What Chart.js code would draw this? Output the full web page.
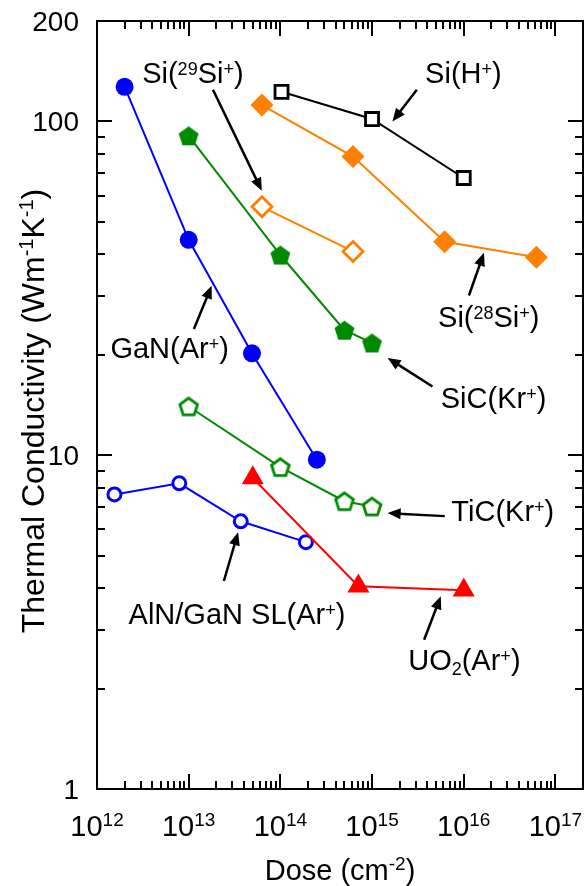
<!DOCTYPE html>
<html>
<head>
<meta charset="utf-8">
<script src="https://cdn.jsdelivr.net/npm/chart.js@4.4.0/dist/chart.umd.min.js"></script>
<style>
  html, body { margin: 0; padding: 0; background: #fff; overflow: hidden; }
  canvas { display: block; }
</style>
</head>
<body>
<canvas id="myChart" width="584" height="886"></canvas>
<script>
'use strict';

//////////////////////
// data (dose in cm^-2, thermal conductivity in W/mK)
//////////////////////

const ganDose = [2e12, 1e13, 4.9e13, 2.5e14];
const ganK = [127, 44.2, 20.2, 9.7];

const alnDose = [1.55e12, 7.9e12, 3.7e13, 1.9e14];
const alnK = [7.63, 8.24, 6.34, 5.49];

const sicDose = [1e13, 1e14, 5e14, 1e15];
const sicK = [90.6, 39.8, 23.7, 21.7];

const ticDose = [1e13, 1e14, 5e14, 1e15];
const ticK = [14.0, 9.21, 7.28, 7.02];

const si28Dose = [6.3e13, 6.2e14, 6.2e15, 6.2e16];
const si28K = [112, 78.5, 43.6, 39.2];

const si29Dose = [6.3e13, 6.2e14];
const si29K = [55.5, 40.8];

const siHDose = [1.03e14, 1e15, 1e16];
const siHK = [122.7, 101.7, 67.7];

const uo2Dose = [5e13, 7.1e14, 1e16];
const uo2K = [8.55, 4.05, 3.94];

const doseTicks = [1e12, 1e13, 1e14, 1e15, 1e16, 1e17];
const doseTickLabels = ['10^{12}', '10^{13}', '10^{14}', '10^{15}', '10^{16}', '10^{17}'];
const kTicks = [1, 10, 100, 200];
const kTickLabels = ['1', '10', '100', '200'];

// labels with arrows, anchored in data space: [dose, k]
const notes = [
  { text: 'Si(^{29}Si^{+})', at: [3.11e12, 130.6], from: [1.84e13, 124.5], to: [6.27e13, 62] },
  { text: 'Si(H^{+})', at: [3.79e15, 130.6], from: [3.08e15, 124.5], to: [1.67e15, 100] },
  { text: 'GaN(Ar^{+})', at: [1.4e12, 19.6], from: [1.14e13, 23.9], to: [1.78e13, 32.2] },
  { text: 'Si(^{28}Si^{+})', at: [5.25e15, 24.2], from: [1.14e16, 30.1], to: [1.66e16, 40.4] },
  { text: 'SiC(Kr^{+})', at: [5.62e15, 13.9], from: [4.56e15, 16.06], to: [1.48e15, 19.57] },
  { text: 'TiC(Kr^{+})', at: [7.33e15, 6.34], from: [6.21e15, 6.57], to: [1.48e15, 6.71] },
  { text: 'AlN/GaN SL(Ar^{+})', at: [2.21e12, 3.13], from: [2.42e13, 4.2], to: [3.46e13, 5.88] },
  { text: 'UO_{2}(Ar^{+})', at: [2.48e15, 2.27], from: [3.7e15, 2.8], to: [5.62e15, 3.78] }
];

//////////////////////
// helpers
//////////////////////

const FONT = '"Liberation Sans", Arial, sans-serif';
const BLUE = '#0000ff';
const GREEN = '#008a00';
const ORANGE = '#ff8000';
const RED = '#ff0000';

function toPoints(xs, ys) {
  return xs.map((x, i) => ({ x: x, y: ys[i] }));
}

// pentagon marker drawn on a small canvas, used as pointStyle
function makePentagon(r, fill, stroke, lw) {
  const size = Math.ceil(2 * r + lw + 4);
  const c = document.createElement('canvas');
  c.width = size;
  c.height = size;
  const g = c.getContext('2d');
  const cx = size / 2;
  const cy = size / 2 + 0.095 * r;
  g.beginPath();
  for (let i = 0; i < 5; i++) {
    const a = -Math.PI / 2 + i * 2 * Math.PI / 5;
    const px = cx + r * Math.cos(a);
    const py = cy + r * Math.sin(a);
    if (i === 0) g.moveTo(px, py); else g.lineTo(px, py);
  }
  g.closePath();
  g.fillStyle = fill;
  g.fill();
  if (lw > 0) {
    g.lineWidth = lw;
    g.strokeStyle = stroke;
    g.lineJoin = 'miter';
    g.stroke();
  }
  return c;
}

// "Si(^{29}Si^{+})" -> segments
function parseRich(str) {
  const segs = [];
  const re = /([\^_])\{([^}]*)\}|([^\^_]+)/g;
  let m;
  while ((m = re.exec(str))) {
    if (m[3]) segs.push({ t: m[3], k: 'n' });
    else segs.push({ t: m[2], k: m[1] === '^' ? 'sup' : 'sub' });
  }
  return segs;
}

function drawRich(ctx, str, x, y, o) {
  const segs = parseRich(str);
  const big = o.size + 'px ' + FONT;
  const small = o.small + 'px ' + FONT;
  let w = 0;
  for (const s of segs) {
    ctx.font = s.k === 'n' ? big : small;
    s.w = ctx.measureText(s.t).width;
    w += s.w;
  }
  let cx = x;
  if (o.align === 'center') cx = x - w / 2;
  if (o.align === 'right') cx = x - w;
  ctx.textBaseline = 'alphabetic';
  ctx.textAlign = 'left';
  ctx.fillStyle = '#000';
  for (const s of segs) {
    ctx.font = s.k === 'n' ? big : small;
    let dy = 0;
    if (s.k === 'sup') dy = -o.raise;
    if (s.k === 'sub') dy = o.drop;
    ctx.fillText(s.t, cx, y + dy);
    cx += s.w;
  }
}

function line(ctx, x1, y1, x2, y2) {
  ctx.beginPath();
  ctx.moveTo(x1, y1);
  ctx.lineTo(x2, y2);
  ctx.stroke();
}

function arrow(ctx, x1, y1, x2, y2) {
  const head = 13;
  const half = 5.5;
  const ang = Math.atan2(y2 - y1, x2 - x1);
  const bx = x2 - head * Math.cos(ang);
  const by = y2 - head * Math.sin(ang);
  ctx.lineWidth = 2.5;
  ctx.strokeStyle = '#000';
  line(ctx, x1, y1, bx + 2 * Math.cos(ang), by + 2 * Math.sin(ang));
  ctx.beginPath();
  ctx.moveTo(x2, y2);
  ctx.lineTo(bx + half * Math.sin(ang), by - half * Math.cos(ang));
  ctx.lineTo(bx - half * Math.sin(ang), by + half * Math.cos(ang));
  ctx.closePath();
  ctx.fillStyle = '#000';
  ctx.fill();
}

//////////////////////
// axes frame, inward ticks, labels and notes
//////////////////////

const framePlugin = {
  id: 'frame',
  afterDraw(chart) {
    const ctx = chart.ctx;
    const xs = chart.scales.x;
    const ys = chart.scales.y;
    const a = chart.chartArea;
    ctx.save();
    ctx.strokeStyle = '#000';
    ctx.lineWidth = 2;
    ctx.lineCap = 'butt';

    // x ticks (bottom and top)
    for (let e = 12; e <= 17; e++) {
      for (let m = 1; m <= 9; m++) {
        const v = m * Math.pow(10, e);
        if (v >= xs.max) break;
        const px = Math.round(xs.getPixelForValue(v));
        const len = m === 1 ? 15 : 8;
        line(ctx, px, a.bottom, px, a.bottom - len);
        line(ctx, px, a.top, px, a.top + len);
      }
    }
    // y ticks (left and right)
    for (let e = 0; e <= 2; e++) {
      for (let m = 1; m <= 9; m++) {
        const v = m * Math.pow(10, e);
        if (v >= ys.max) break;
        const py = Math.round(ys.getPixelForValue(v));
        const len = m === 1 ? 15 : 8;
        line(ctx, a.left, py, a.left + len, py);
        line(ctx, a.right, py, a.right - len, py);
      }
    }
    ctx.strokeRect(a.left, a.top, a.right - a.left, a.bottom - a.top);

    // tick labels
    doseTicks.forEach((v, i) => {
      const px = xs.getPixelForValue(v);
      drawRich(ctx, doseTickLabels[i], px, a.bottom + 47, { size: 29, small: 19, raise: 10, drop: 0, align: 'center' });
    });
    kTicks.forEach((v, i) => {
      const py = ys.getPixelForValue(v);
      drawRich(ctx, kTickLabels[i], a.left - 18, py + 10, { size: 28, small: 18, raise: 9, drop: 0, align: 'right' });
    });

    // axis titles
    drawRich(ctx, 'Dose (cm^{-2})', (a.left + a.right) / 2, 880, { size: 29, small: 19, raise: 10, drop: 0, align: 'center' });
    ctx.save();
    ctx.translate(44, (a.top + a.bottom) / 2 + 6);
    ctx.rotate(-Math.PI / 2);
    drawRich(ctx, 'Thermal Conductivity (Wm^{-1}K^{-1})', 0, 0, { size: 32, small: 20, raise: 11, drop: 0, align: 'center' });
    ctx.restore();

    // notes with arrows
    for (const n of notes) {
      drawRich(ctx, n.text, xs.getPixelForValue(n.at[0]), ys.getPixelForValue(n.at[1]),
        { size: 29, small: 18, raise: 8, drop: 5, align: 'left' });
      arrow(ctx,
        xs.getPixelForValue(n.from[0]), ys.getPixelForValue(n.from[1]),
        xs.getPixelForValue(n.to[0]), ys.getPixelForValue(n.to[1]));
    }
    ctx.restore();
  }
};

//////////////////////
// chart
//////////////////////

const sicMark = makePentagon(10.5, GREEN, GREEN, 0);
const ticMark = makePentagon(9.3, '#fff', GREEN, 2.8);

function series(label, xs, ys, color, style, radius, fill, bw) {
  return {
    label: label,
    data: toPoints(xs, ys),
    borderColor: color,
    borderWidth: 2,
    pointStyle: style,
    pointRadius: radius,
    pointBackgroundColor: fill,
    pointBorderColor: color,
    pointBorderWidth: bw,
    showLine: true,
    fill: false,
    tension: 0
  };
}

const data = {
  datasets: [
    series('Si(H+)', siHDose, siHK, '#000', 'rect', 9.2, '#fff', 2.8),
    series('Si(29Si+)', si29Dose, si29K, ORANGE, 'rectRot', 10, '#fff', 2.8),
    series('Si(28Si+)', si28Dose, si28K, ORANGE, 'rectRot', 11.5, ORANGE, 0),
    series('SiC(Kr+)', sicDose, sicK, GREEN, sicMark, 10, GREEN, 0),
    series('TiC(Kr+)', ticDose, ticK, GREEN, ticMark, 10, '#fff', 0),
    series('GaN(Ar+)', ganDose, ganK, BLUE, 'circle', 9, BLUE, 0),
    series('UO2(Ar+)', uo2Dose, uo2K, RED, 'triangle', 12.7, RED, 0),
    series('AlN/GaN SL(Ar+)', alnDose, alnK, BLUE, 'circle', 6.5, '#fff', 3)
  ]
};

const config = {
  type: 'scatter',
  data: data,
  options: {
    responsive: false,
    animation: false,
    events: [],
    layout: { autoPadding: false, padding: { left: 97, right: 1, top: 21, bottom: 97 } },
    plugins: {
      legend: { display: false },
      tooltip: { enabled: false }
    },
    scales: {
      x: { type: 'logarithmic', min: 1e12, max: 2e17, display: false },
      y: { type: 'logarithmic', min: 1, max: 200, display: false }
    }
  },
  plugins: [framePlugin]
};

const canvasChart = document.getElementById('myChart');
const myChart = new Chart(canvasChart, config);
</script>
</body>
</html>
